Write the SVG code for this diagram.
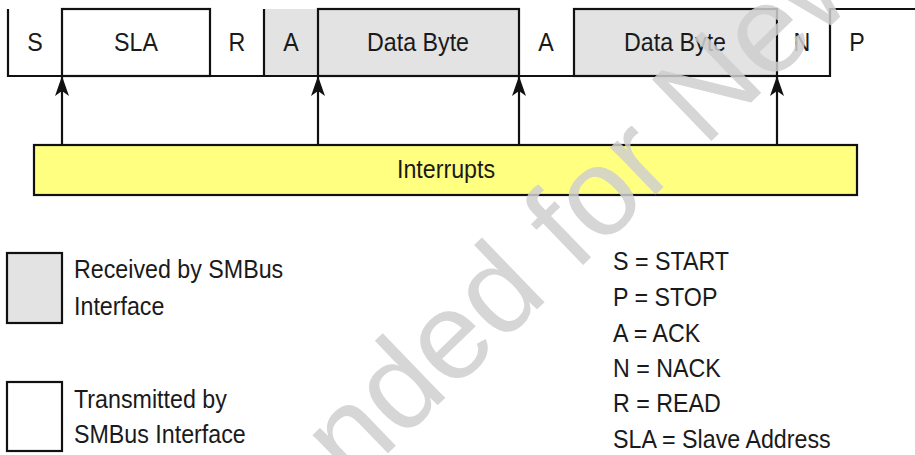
<svg xmlns="http://www.w3.org/2000/svg" width="915" height="455" viewBox="0 0 915 455">
<defs>
<style>
.t{font-family:"Liberation Sans",Arial,sans-serif;font-size:25px;fill:#1a1a1a}
.ln{stroke:#111;stroke-width:2.2;fill:none}
.rx{fill:#e3e3e3}
.box{stroke:#111;stroke-width:2.2}
.wm{font-family:"Liberation Sans",Arial,sans-serif;font-size:124px;fill:#cfcfcf;opacity:0.85}
</style>
<marker id="ah" viewBox="0 0 20 14" refX="19" refY="7" markerWidth="20" markerHeight="14" orient="auto" markerUnits="userSpaceOnUse">
<path d="M0,0 L20,7 L0,14 L5,7 Z" fill="#111"/>
</marker>
</defs>
<rect x="0" y="0" width="915" height="455" fill="#ffffff"/>

<g id="frame">
<rect class="rx" x="264" y="9" width="54" height="67"/>
<path class="ln" d="M8,9 V76 H830 V9 H915"/>
<path class="ln" d="M264,9 V76"/>
</g>

<g id="field-S"><text class="t" text-anchor="middle" transform="translate(35,51) scale(0.93,1)">S</text></g>
<g id="field-SLA">
<rect class="box" x="62" y="9" width="148" height="67" fill="#ffffff"/>
<text class="t" text-anchor="middle" transform="translate(136,51) scale(0.93,1)">SLA</text>
</g>
<g id="field-R"><text class="t" text-anchor="middle" transform="translate(237,51) scale(0.93,1)">R</text></g>
<g id="field-A1"><text class="t" text-anchor="middle" transform="translate(291,51) scale(0.93,1)">A</text></g>
<g id="field-data1">
<rect class="box rx" x="318" y="9" width="201" height="67"/>
<text class="t" text-anchor="middle" transform="translate(418,51) scale(0.93,1)">Data Byte</text>
</g>
<g id="field-A2"><text class="t" text-anchor="middle" transform="translate(546,51) scale(0.93,1)">A</text></g>
<g id="field-data2">
<rect class="box rx" x="574" y="9" width="203" height="67"/>
<text class="t" text-anchor="middle" transform="translate(675,51) scale(0.93,1)">Data Byte</text>
</g>
<g id="field-N"><text class="t" text-anchor="middle" transform="translate(802,51) scale(0.93,1)">N</text></g>
<g id="field-P"><text class="t" text-anchor="middle" transform="translate(857,51) scale(0.93,1)">P</text></g>

<g id="interrupts">
<rect class="box" x="34" y="145" width="823" height="50" fill="#ffff80"/>
<text class="t" text-anchor="middle" transform="translate(446,178) scale(0.93,1)">Interrupts</text>
</g>

<g id="connectors">
<line class="ln" x1="62" y1="145" x2="62" y2="77" marker-end="url(#ah)"/>
<line class="ln" x1="318" y1="145" x2="318" y2="77" marker-end="url(#ah)"/>
<line class="ln" x1="519" y1="145" x2="519" y2="77" marker-end="url(#ah)"/>
<line class="ln" x1="777" y1="145" x2="777" y2="77" marker-end="url(#ah)"/>
</g>

<g id="legend-received">
<rect class="box rx" x="7" y="253" width="55" height="70"/>
<text class="t" transform="translate(74,278) scale(0.93,1)">Received by SMBus</text>
<text class="t" transform="translate(74,315) scale(0.93,1)">Interface</text>
</g>
<g id="legend-transmitted">
<rect class="box" x="7" y="382" width="55" height="69" fill="#ffffff"/>
<text class="t" transform="translate(74,408) scale(0.93,1)">Transmitted by</text>
<text class="t" transform="translate(74,443) scale(0.93,1)">SMBus Interface</text>
</g>
<g id="legend-abbrev">
<text class="t" transform="translate(613,270) scale(0.93,1)">S = START</text>
<text class="t" transform="translate(613,306) scale(0.93,1)">P = STOP</text>
<text class="t" transform="translate(613,342) scale(0.93,1)">A = ACK</text>
<text class="t" transform="translate(613,377) scale(0.93,1)">N = NACK</text>
<text class="t" transform="translate(613,412) scale(0.93,1)">R = READ</text>
<text class="t" transform="translate(613,448) scale(0.93,1)">SLA = Slave Address</text>
</g>

<g id="watermark" transform="translate(352,488) rotate(-44)">
<text class="wm" text-anchor="end">Not Recomme</text>
<text class="wm">nded for New Designs</text>
</g>
</svg>
